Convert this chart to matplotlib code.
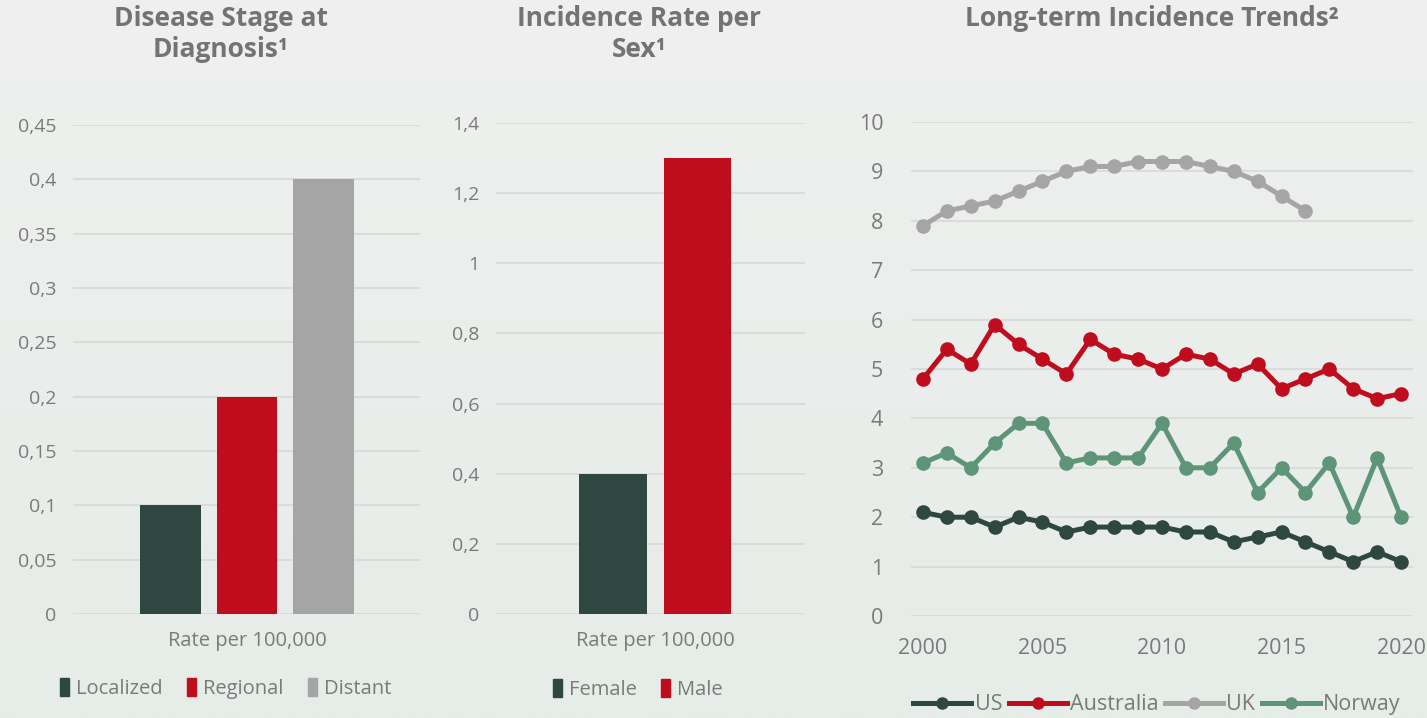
import numpy as np
import matplotlib.pyplot as plt
from matplotlib.patches import Patch
from matplotlib.lines import Line2D
from matplotlib.colors import LinearSegmentedColormap

plt.rcParams['font.family'] = ['Open Sans', 'DejaVu Sans']

# ---------------------------------------
# Data
# ---------------------------------------
stage_labels = ["Localized", "Regional", "Distant"]
stage_values = [0.1, 0.2, 0.4]

sex_labels = ["Female", "Male"]
sex_values = [0.4, 1.3]

years = list(range(2000, 2021))
uk_years = list(range(2000, 2017))
us = [2.1, 2.0, 2.0, 1.8, 2.0, 1.9, 1.7, 1.8, 1.8, 1.8, 1.8,
      1.7, 1.7, 1.5, 1.6, 1.7, 1.5, 1.3, 1.1, 1.3, 1.1]
australia = [4.8, 5.4, 5.1, 5.9, 5.5, 5.2, 4.9, 5.6, 5.3, 5.2, 5.0,
             5.3, 5.2, 4.9, 5.1, 4.6, 4.8, 5.0, 4.6, 4.4, 4.5]
uk = [7.9, 8.2, 8.3, 8.4, 8.6, 8.8, 9.0, 9.1, 9.1, 9.2, 9.2,
      9.2, 9.1, 9.0, 8.8, 8.5, 8.2]
norway = [3.1, 3.3, 3.0, 3.5, 3.9, 3.9, 3.1, 3.2, 3.2, 3.2, 3.9,
          3.0, 3.0, 3.5, 2.5, 3.0, 2.5, 3.1, 2.0, 3.2, 2.0]

stage_ticks = [0, 0.05, 0.1, 0.15, 0.2, 0.25, 0.3, 0.35, 0.4, 0.45]
sex_ticks = [0, 0.2, 0.4, 0.6, 0.8, 1.0, 1.2, 1.4]
trend_ticks = list(range(0, 11))
year_ticks = [2000, 2005, 2010, 2015, 2020]

# ---------------------------------------
# Style
# ---------------------------------------
DARK = "#2e4741"
RED = "#c00d1e"
GREY = "#a5a5a5"
GREEN = "#5e9478"
TEXT = "#7a7a7a"
TITLE = "#737373"
GRID = "#dadcdb"
BG = "#ecefed"

W, H = 1427, 718


def px_axes(fig, x0, x1, y_top, y_bot):
    return fig.add_axes([x0 / W, 1 - y_bot / H, (x1 - x0) / W, (y_bot - y_top) / H])


def comma(v):
    return f"{v:g}".replace(".", ",")


def style_axes(ax, ticks, pad):
    ax.set_facecolor("none")
    for s in ax.spines.values():
        s.set_visible(False)
    ax.set_yticks(ticks)
    ax.set_yticklabels([comma(t) for t in ticks])
    ax.grid(axis="y", color=GRID, linewidth=1.4)
    ax.set_axisbelow(True)
    ax.tick_params(axis="y", length=0, pad=pad, labelcolor=TEXT)
    ax.tick_params(axis="x", length=0, labelcolor=TEXT)


def title(text, x, y):
    fig.text(x / W, 1 - y / H, text, ha="center", va="center", fontsize=19,
             fontweight="bold", color=TITLE, linespacing=1.15)


fig = plt.figure(figsize=(W / 100, H / 100), dpi=100)
fig.patch.set_facecolor(BG)

# soft vertical background gradient
bg_ax = fig.add_axes([0, 0, 1, 1], zorder=-10)
bg_cmap = LinearSegmentedColormap.from_list("bg", ["#eff0ef", "#e6ece8"])
bg_ax.imshow(np.linspace(0, 1, 256).reshape(-1, 1), aspect="auto", cmap=bg_cmap,
             extent=[0, 1, 1, 0])
bg_ax.axis("off")

# ---------------------------------------
# Chart 1 — Disease stage
# ---------------------------------------
ax1 = px_axes(fig, 73, 420, 125, 614)
ax1.bar(range(3), stage_values, width=0.79, color=[DARK, RED, GREY])
ax1.set_xlim(-1.266, 3.253)
ax1.set_ylim(0, 0.45)
style_axes(ax1, stage_ticks, 12)
ax1.tick_params(axis="y", labelsize=14)
ax1.set_xticks([1])
ax1.set_xticklabels(["Rate per 100,000"], fontsize=14.5)
ax1.tick_params(axis="x", pad=12)
title("Disease Stage at\nDiagnosis¹", 221, 34)
h1 = [Patch(color=c) for c in [DARK, RED, GREY]]
ax1.legend(h1, stage_labels, loc="center", bbox_to_anchor=(0.44, -0.153), ncol=3,
           frameon=False, fontsize=14.5, handlelength=0.45, handleheight=1.0,
           handletextpad=0.35, columnspacing=1.2, labelcolor=TEXT)

# ---------------------------------------
# Chart 2 — Sex
# ---------------------------------------
ax2 = px_axes(fig, 496, 805, 123, 614)
ax2.bar(range(2), sex_values, width=0.80, color=[DARK, RED])
ax2.set_xlim(-1.385, 2.272)
ax2.set_ylim(0, 1.4)
style_axes(ax2, sex_ticks, 12)
ax2.tick_params(axis="y", labelsize=14)
ax2.set_xticks([0.5])
ax2.set_xticklabels(["Rate per 100,000"], fontsize=14.5)
ax2.tick_params(axis="x", pad=12)
title("Incidence Rate per\nSex¹", 639, 34)
h2 = [Patch(color=c) for c in [DARK, RED]]
ax2.legend(h2, sex_labels, loc="center", bbox_to_anchor=(0.46, -0.153), ncol=2,
           frameon=False, fontsize=14.5, handlelength=0.45, handleheight=1.0,
           handletextpad=0.35, columnspacing=1.2, labelcolor=TEXT)

# ---------------------------------------
# Chart 3 — Long-term trends
# ---------------------------------------
ax3 = px_axes(fig, 911, 1413, 122, 616)
series = [("US", years, us, DARK), ("Australia", years, australia, RED),
          ("UK", uk_years, uk, GREY), ("Norway", years, norway, GREEN)]
for name, xs, ys, c in series:
    ax3.plot(xs, ys, color=c, linewidth=3.6, marker="o", markersize=9.5,
             solid_capstyle="round", label=name)
ax3.set_xlim(1999.5, 2020.5)
ax3.set_ylim(0, 10)
style_axes(ax3, trend_ticks, 20)
ax3.tick_params(axis="y", labelsize=15.5)
ax3.set_xticks(year_ticks)
ax3.tick_params(axis="x", labelsize=15.5, pad=16)
title("Long-term Incidence Trends²", 1152, 18)
h3 = [Line2D([], [], color=c, linewidth=3.6, marker="o", markersize=8)
      for _, _, _, c in series]
ax3.legend(h3, [s[0] for s in series], loc="center", bbox_to_anchor=(0.49, -0.18),
           ncol=4, frameon=False, fontsize=15.5, handlelength=2.7,
           handletextpad=0.15, columnspacing=0.3, labelcolor=TEXT)

plt.savefig("out.png", dpi=100, facecolor=BG)
